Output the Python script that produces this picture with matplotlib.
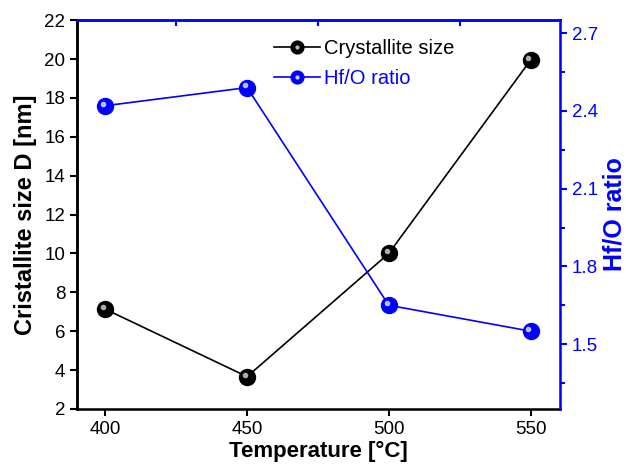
import matplotlib
matplotlib.use('Agg')
import matplotlib.pyplot as plt
from matplotlib import transforms
from matplotlib.legend_handler import HandlerTuple

plt.rcParams['font.family'] = ['Liberation Sans', 'DejaVu Sans']

# data
temperature = [400, 450, 500, 550]
crystallite_size = [7.13, 3.66, 10.0, 19.94]
hfo_ratio = [2.42, 2.49, 1.65, 1.55]
x_ticks = [400, 450, 500, 550]
left_ticks = [2, 4, 6, 8, 10, 12, 14, 16, 18, 20, 22]
right_ticks = [1.5, 1.8, 2.1, 2.4, 2.7]

blue = '#0000ff'

fig = plt.figure(figsize=(6.26, 4.70), dpi=100)
ax = fig.add_axes([0.123, 0.130, 0.772, 0.827])
ax2 = ax.twinx()


def sphere(a, x, y, color, hl):
    line, = a.plot(x, y, '-', color=color, lw=1.2, marker='o', markersize=11.5,
                   markerfacecolor=color, markeredgecolor=color, zorder=3)
    off = transforms.offset_copy(a.transData, fig=fig, x=-1.5, y=1.5, units='points')
    a.plot(x, y, 'o', markersize=3, color=hl, alpha=0.9, transform=off, zorder=4)
    h, = a.plot([], [], 'o', markersize=2.5, color=hl)
    return line, h


l1, h1 = sphere(ax, temperature, crystallite_size, 'black', '#bbbbbb')
l2, h2 = sphere(ax2, temperature, hfo_ratio, blue, '#ccccff')

ax.set_xlim(390, 560.5)
ax.set_ylim(2, 22)
ax2.set_ylim(1.25, 2.75)

ax.set_xticks(x_ticks)
ax.set_yticks(left_ticks)
ax2.set_yticks(right_ticks)
ax2.set_yticks([1.35, 1.65, 1.95, 2.25, 2.55], minor=True)

ax.tick_params(axis='both', labelsize=13.5, width=1.5, length=5, direction='out')
ax2.tick_params(axis='y', which='major', labelsize=13.5, width=1.5, length=5,
                colors=blue, direction='out')
ax2.tick_params(axis='y', which='minor', width=1.5, length=3.5, colors=blue,
                direction='out')

# top blue spine with inward ticks at the midpoints
top = ax.secondary_xaxis('top')
top.set_xticks([425, 475, 525])
top.tick_params(axis='x', direction='in', length=4, width=1.5, colors=blue,
                labeltop=False)
top.spines['top'].set_color(blue)
top.spines['top'].set_linewidth(1.8)

for s in ['left', 'bottom']:
    ax.spines[s].set_linewidth(1.8)
for s in ['right', 'top']:
    ax2.spines[s].set_color(blue)
    ax2.spines[s].set_linewidth(1.8)
ax.spines['top'].set_color(blue)
ax.spines['right'].set_color(blue)
ax2.spines['left'].set_linewidth(1.8)

ax.set_xlabel('Temperature [°C]', fontsize=16, fontweight='bold', labelpad=2)
ax.set_ylabel('Cristallite size D [nm]', fontsize=17, fontweight='bold', labelpad=5)
ax2.set_ylabel('Hf/O ratio', fontsize=18, fontweight='bold', color=blue, labelpad=3)

leg = ax2.legend([(l1, h1), (l2, h2)], ['Crystallite size', 'Hf/O ratio'],
                 handler_map={tuple: HandlerTuple(ndivide=1)},
                 loc='upper left', bbox_to_anchor=(0.37, 0.998),
                 frameon=False, fontsize=14.5, handlelength=2.3,
                 handletextpad=0.2, labelspacing=0.55, markerscale=0.8)
leg.get_texts()[1].set_color(blue)

fig.savefig('out.png', dpi=100)
